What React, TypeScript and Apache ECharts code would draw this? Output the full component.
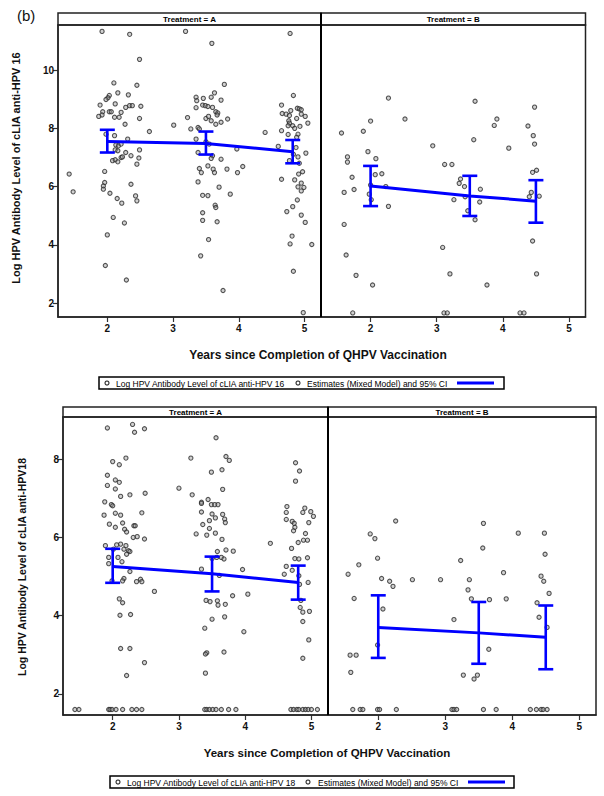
import React, { useEffect, useRef } from "react";
import * as echarts from "echarts";

// ---------- Data ----------
const xTicks = [2, 3, 4, 5];
const yTicks16 = [2, 4, 6, 8, 10];
const yTicks18 = [2, 4, 6, 8];

// HPV 16, Treatment A (individual observations)
const obs16A: number[][] = [
  [1.92, 11.33], [2.34, 11.23], [3.19, 11.33], [3.59, 10.92], [4.78, 11.26], [2.49, 10.37], [3.78, 9.51], [2.45, 9.48], [2.10, 9.56],
  [2.03, 9.13], [2.01, 9.05], [1.98, 8.99], [2.16, 9.22], [2.32, 9.15], [1.89, 8.80], [2.12, 8.84], [2.21, 8.55], [2.28, 8.72],
  [2.34, 8.78], [2.38, 8.78], [2.51, 8.76], [1.93, 8.57], [2.03, 8.57], [2.06, 8.57], [1.92, 8.46], [1.87, 8.41], [2.18, 8.38],
  [2.11, 8.38], [2.49, 8.34], [2.27, 8.14], [2.11, 7.75], [2.31, 7.63], [2.64, 7.89], [1.98, 7.80], [2.13, 7.43], [2.17, 7.40],
  [2.21, 7.46], [2.12, 7.26], [2.16, 7.23], [2.49, 7.26], [2.28, 7.17], [2.36, 7.06], [2.21, 7.00], [2.23, 7.02], [2.08, 6.89],
  [2.12, 6.92], [2.16, 6.85], [2.48, 6.98], [2.45, 6.77], [1.96, 6.52], [2.36, 6.08], [1.96, 6.14], [1.94, 6.02], [1.94, 5.91],
  [2.04, 5.77], [2.15, 5.59], [2.22, 5.43], [2.43, 5.68], [2.45, 5.51], [2.09, 4.94], [2.26, 4.75], [2.00, 4.34], [1.97, 3.29],
  [2.29, 2.79], [1.42, 6.43], [1.48, 5.82], [3.01, 8.11],
  [3.35, 9.07], [3.36, 8.95], [3.46, 9.03], [3.63, 9.22], [3.73, 8.97], [3.35, 8.71], [3.45, 8.80], [3.49, 8.78], [3.53, 8.75],
  [3.58, 9.07], [3.60, 8.72], [3.65, 8.57], [3.68, 8.53], [3.67, 8.46], [3.50, 8.34], [3.54, 8.41], [3.58, 8.26], [3.22, 8.37],
  [3.83, 8.32], [3.73, 8.21], [3.65, 8.14], [3.38, 8.03], [3.40, 7.98], [3.27, 7.98], [3.35, 7.63], [3.50, 7.54], [3.55, 7.46],
  [3.38, 7.17], [3.60, 7.06], [3.73, 6.94], [3.58, 6.97], [3.53, 6.71], [3.40, 6.62], [3.43, 6.48], [3.61, 6.60], [3.63, 6.48],
  [3.82, 6.60], [3.98, 6.48], [4.06, 6.69], [3.97, 7.29], [3.38, 6.16], [3.70, 5.98], [3.45, 5.70], [3.53, 5.69], [3.87, 5.74],
  [3.64, 5.36], [3.65, 5.28], [3.45, 5.10], [3.45, 4.84], [3.67, 4.79], [3.54, 4.18], [3.42, 3.62], [3.76, 2.43], [4.40, 7.86],
  [4.83, 9.13], [4.65, 8.80], [4.89, 8.69], [4.92, 8.67], [4.95, 8.64], [4.79, 8.61], [4.66, 8.51], [4.72, 8.49], [4.77, 8.44],
  [4.95, 8.49], [5.01, 8.41], [4.88, 8.34], [4.76, 8.26], [4.77, 8.18], [4.82, 8.09], [5.05, 8.18], [4.75, 8.09], [4.85, 8.00],
  [4.93, 8.07], [4.90, 7.80], [4.65, 7.92], [4.75, 7.79], [4.88, 7.69], [4.60, 7.38], [4.87, 7.34], [5.02, 7.15], [4.83, 7.11],
  [4.90, 7.02], [4.77, 6.89], [4.92, 6.80], [4.97, 6.51], [4.91, 6.43], [4.65, 6.25], [4.85, 6.23], [4.95, 6.12], [4.90, 5.99],
  [4.99, 5.97], [4.95, 5.85], [4.89, 5.54], [4.82, 5.31], [4.73, 5.14], [4.95, 5.02], [5.01, 4.77], [4.81, 4.30], [4.78, 4.03],
  [5.11, 4.01], [4.83, 3.09], [4.98, 1.67],
];

// HPV 16, Treatment B
const obs16B: number[][] = [
  [2.27, 9.04], [3.58, 8.93], [4.48, 8.73], [2.00, 8.25], [2.52, 8.32], [3.91, 8.32], [3.87, 8.10], [4.38, 8.08], [1.89, 7.90],
  [1.56, 7.84], [3.56, 7.61], [4.46, 7.75], [4.48, 7.46], [2.94, 7.40], [4.09, 7.32], [1.65, 7.02], [1.65, 6.84], [1.96, 7.20],
  [2.08, 6.96], [1.72, 6.32], [2.07, 6.41], [2.17, 6.44], [2.00, 6.05], [2.23, 6.00], [1.75, 5.90], [1.60, 5.80], [1.98, 5.74],
  [2.01, 5.55], [2.27, 5.32], [3.12, 6.76], [3.23, 6.76], [3.36, 6.26], [3.34, 6.11], [3.42, 6.00], [3.66, 5.91], [3.26, 5.55],
  [3.43, 5.65], [3.65, 5.47], [3.47, 5.17], [3.58, 4.86], [4.45, 6.49], [4.51, 6.56], [4.43, 5.80], [4.40, 5.65], [4.55, 5.67],
  [1.60, 4.70], [1.63, 3.65], [1.78, 2.95], [2.03, 2.62], [3.09, 3.91], [3.20, 3.00], [3.76, 2.62], [4.45, 4.13], [4.51, 3.00],
  [1.73, 1.66], [3.11, 1.66], [3.16, 1.66], [4.26, 1.66], [4.32, 1.66],
];

// HPV 18, Treatment A
const obs18A: number[][] = [
  [1.92, 8.80], [2.30, 8.89], [2.33, 8.69], [2.48, 8.78], [2.00, 7.94], [2.10, 7.86], [2.20, 8.03], [1.92, 7.59], [1.92, 7.33],
  [2.04, 7.47], [2.10, 7.41], [2.04, 7.24], [2.26, 7.09], [2.12, 7.05], [2.49, 7.13], [1.88, 6.91], [1.98, 6.84], [2.00, 6.81],
  [2.04, 6.62], [2.12, 6.57], [1.87, 6.57], [2.44, 6.63], [1.95, 6.34], [2.15, 6.37], [2.04, 6.26], [2.18, 6.21], [2.32, 6.30],
  [2.34, 6.30], [2.21, 6.14], [2.31, 6.00], [2.37, 6.02], [2.48, 5.96], [2.12, 5.83], [2.06, 5.81], [1.89, 5.79], [2.20, 5.79],
  [2.01, 5.70], [2.24, 5.66], [2.26, 5.64], [2.21, 5.57], [2.17, 5.70], [1.94, 5.49], [2.14, 5.38], [2.08, 5.49], [1.94, 5.33],
  [2.26, 5.13], [2.17, 4.95], [2.15, 4.89], [2.36, 4.87], [2.42, 4.93], [2.44, 4.87], [1.99, 4.89], [2.63, 4.62], [2.10, 4.43],
  [2.15, 4.33], [2.11, 4.01], [2.27, 4.03], [2.12, 3.16], [2.26, 3.16], [2.48, 2.80], [2.21, 2.47],
  [1.43, 1.6], [1.49, 1.6], [1.94, 1.6], [1.96, 1.6], [1.99, 1.6], [2.05, 1.6], [2.15, 1.6], [2.29, 1.6], [2.36, 1.6], [2.44, 1.6],
  [3.56, 8.55], [3.18, 8.03], [3.71, 8.07], [3.76, 7.97], [3.49, 7.67], [3.65, 7.73], [3.00, 7.26], [3.20, 7.09], [3.66, 7.23],
  [3.44, 6.97], [3.34, 6.90], [3.34, 6.87], [3.49, 6.84], [3.54, 6.84], [3.59, 6.84], [3.34, 6.65], [3.50, 6.60], [3.55, 6.50],
  [3.66, 6.59], [3.69, 6.47], [3.70, 6.38], [3.46, 6.43], [3.36, 6.33], [3.46, 6.23], [3.26, 6.09], [3.42, 6.06], [3.55, 6.11],
  [3.65, 5.95], [3.58, 5.64], [3.71, 5.68], [3.82, 5.65], [3.57, 5.49], [3.50, 5.46], [3.64, 5.49], [3.68, 5.45], [3.34, 5.19],
  [3.61, 5.03], [3.96, 5.18], [3.41, 4.39], [3.47, 4.36], [3.58, 4.38], [3.59, 4.27], [3.70, 4.29], [3.81, 4.51], [4.04, 4.55],
  [3.50, 3.91], [3.69, 3.97], [3.39, 3.68], [3.98, 3.59], [3.42, 3.05], [3.40, 3.02], [3.68, 3.07], [3.40, 2.53],
  [3.39, 1.6], [3.42, 1.6], [3.46, 1.6], [3.51, 1.6], [3.56, 1.6], [3.64, 1.6], [3.75, 1.6], [3.86, 1.6], [4.38, 5.85],
  [4.76, 7.91], [4.82, 7.70], [4.76, 7.44], [4.63, 6.79], [4.90, 6.75], [4.87, 6.64], [4.99, 6.66], [4.62, 6.64], [5.03, 6.54],
  [4.62, 6.46], [4.71, 6.41], [4.74, 6.36], [4.96, 6.38], [4.73, 6.17], [4.75, 6.26], [4.91, 6.10], [4.88, 5.93], [4.94, 5.93],
  [4.80, 5.87], [4.70, 5.72], [4.75, 5.46], [4.81, 5.45], [4.94, 5.48], [4.62, 5.26], [4.71, 5.16], [4.59, 5.06], [4.81, 5.02],
  [4.95, 4.85], [4.82, 4.80], [4.84, 4.39], [4.83, 4.21], [4.87, 4.09], [4.97, 4.11], [4.87, 3.85], [4.96, 3.38], [4.87, 2.91],
  [4.69, 1.6], [4.73, 1.6], [4.78, 1.6], [4.81, 1.6], [4.87, 1.6], [4.91, 1.6], [4.95, 1.6], [5.00, 1.6], [5.09, 1.6],
];

// HPV 18, Treatment B
const obs18B: number[][] = [
  [2.26, 6.42], [3.57, 6.36], [1.88, 6.09], [1.95, 5.97], [4.09, 6.11], [4.48, 6.11], [3.56, 5.73], [4.49, 5.57], [1.99, 5.47],
  [3.23, 5.41], [1.71, 5.30], [1.55, 5.06], [3.87, 5.10], [2.05, 4.95], [2.17, 4.88], [2.22, 4.75], [2.51, 4.92], [2.93, 4.92],
  [3.36, 4.92], [4.43, 5.01], [4.47, 4.88], [3.34, 4.66], [1.64, 4.44], [3.39, 4.43], [3.66, 4.41], [3.91, 4.43], [4.55, 4.57],
  [4.37, 4.33], [2.07, 4.17], [4.40, 3.96], [4.52, 3.70], [3.13, 3.90], [1.99, 3.25], [3.65, 3.14], [1.58, 2.99], [1.67, 2.99],
  [1.59, 2.55], [3.27, 2.48], [3.48, 2.48], [3.43, 2.38],
  [1.62, 1.6], [1.73, 1.6], [1.77, 1.6], [1.99, 1.6], [2.02, 1.6], [2.27, 1.6], [3.10, 1.6], [3.13, 1.6], [3.17, 1.6], [3.57, 1.6],
  [3.76, 1.6], [4.27, 1.6], [4.36, 1.6], [4.43, 1.6], [4.46, 1.6], [4.52, 1.6],
];

// Estimates (Mixed Model) and 95% CI
const time16A = [2.0, 3.5, 4.82];
const est16A = [7.55, 7.48, 7.2];
const lo16A = [7.17, 7.1, 6.8];
const hi16A = [7.95, 7.89, 7.6];

const time16B = [2.0, 3.5, 4.5];
const est16B = [6.02, 5.68, 5.5];
const lo16B = [5.33, 4.99, 4.76];
const hi16B = [6.71, 6.37, 6.22];

const time18A = [2.0, 3.5, 4.8];
const est18A = [5.26, 5.07, 4.85];
const lo18A = [4.84, 4.62, 4.41];
const hi18A = [5.71, 5.51, 5.28];

const time18B = [2.0, 3.5, 4.5];
const est18B = [3.7, 3.56, 3.45];
const lo18B = [2.92, 2.77, 2.63];
const hi18B = [4.52, 4.35, 4.26];

const FONT = "Liberation Sans, Arial, sans-serif";
const BLUE = "#0000ff";

export default function App() {
  const ref = useRef<HTMLDivElement>(null);

  useEffect(() => {
    if (!ref.current) return;
    const chart = echarts.init(ref.current, undefined, { renderer: "svg" });

    const grids = [
      { left: 58, top: 25, width: 263, height: 292 },
      { left: 321, top: 25, width: 264.5, height: 292 },
      { left: 63, top: 417, width: 265, height: 298 },
      { left: 328, top: 417, width: 268, height: 298 },
    ];

    const xAxes = grids.map((_, i) => ({
      type: "value",
      gridIndex: i,
      min: 1.25,
      max: 5.25,
      axisLine: { show: true, lineStyle: { color: "#333", width: 1.5 } },
      axisTick: { show: true, customValues: xTicks, length: 5, lineStyle: { color: "#333", width: 1.2 } },
      axisLabel: {
        show: true,
        customValues: xTicks,
        color: "#111",
        fontSize: 10,
        fontWeight: "bold",
        fontFamily: FONT,
        margin: 6,
      },
      splitLine: { show: false },
    }));

    const yAxes = grids.map((_, i) => {
      const top = i < 2;
      const showLabels = i === 0 || i === 2;
      const ticks = top ? yTicks16 : yTicks18;
      return {
        type: "value",
        gridIndex: i,
        min: top ? 1.52 : 1.46,
        max: top ? 11.55 : 9.08,
        axisLine: { show: showLabels, lineStyle: { color: "#333", width: 1.5 } },
        axisTick: { show: showLabels, customValues: ticks, length: 5, lineStyle: { color: "#333", width: 1.2 } },
        axisLabel: {
          show: showLabels,
          customValues: ticks,
          color: "#111",
          fontSize: 10,
          fontWeight: "bold",
          fontFamily: FONT,
          margin: 4,
        },
        splitLine: { show: false },
      };
    });

    const scatter = (data: number[][], idx: number) => ({
      type: "scatter",
      xAxisIndex: idx,
      yAxisIndex: idx,
      data,
      symbol: "circle",
      symbolSize: 4.2,
      itemStyle: { color: "rgba(150,150,150,0.55)", borderColor: "#2a2a2a", borderWidth: 1.1 },
      z: 2,
    });

    const line = (t: number[], e: number[], idx: number) => ({
      type: "line",
      xAxisIndex: idx,
      yAxisIndex: idx,
      data: t.map((v, k) => [v, e[k]]),
      showSymbol: false,
      lineStyle: { color: BLUE, width: 3 },
      z: 4,
    });

    const bars = (t: number[], lo: number[], hi: number[], idx: number) => ({
      type: "custom",
      xAxisIndex: idx,
      yAxisIndex: idx,
      data: t.map((v, k) => [v, lo[k], hi[k]]),
      encode: { x: 0, y: [1, 2] },
      z: 5,
      renderItem: (_p: any, api: any) => {
        const x = api.value(0);
        const a = api.coord([x, api.value(1)]);
        const b = api.coord([x, api.value(2)]);
        const hw = 7.5;
        const st = { stroke: BLUE, lineWidth: 2.6 };
        return {
          type: "group",
          children: [
            { type: "line", shape: { x1: a[0], y1: a[1], x2: b[0], y2: b[1] }, style: st },
            { type: "line", shape: { x1: a[0] - hw, y1: a[1], x2: a[0] + hw, y2: a[1] }, style: st },
            { type: "line", shape: { x1: b[0] - hw, y1: b[1], x2: b[0] + hw, y2: b[1] }, style: st },
          ],
        };
      },
    });

    const frameStyle = { fill: "none", stroke: "#222", lineWidth: 1.5 };
    const stripText = (label: string, cx: number, cy: number) => ({
      type: "text",
      x: cx,
      y: cy,
      style: { text: label, fontSize: 8, fontWeight: "bold", fontFamily: FONT, fill: "#000", align: "center", verticalAlign: "middle" },
      z: 10,
    });

    const legend = (bx: number, by: number, bw: number, label: string, c1: number, t1: number, c2: number, t2: number, l1: number, l2: number) => [
      { type: "rect", shape: { x: bx, y: by, width: bw, height: 12 }, style: { fill: "#fff", stroke: "#000", lineWidth: 1.5 }, z: 10 },
      { type: "circle", shape: { cx: c1, cy: by + 6, r: 2 }, style: { fill: "none", stroke: "#222", lineWidth: 1.1 }, z: 11 },
      { type: "text", x: t1, y: by + 6.5, style: { text: label, fontSize: 8.5, fontFamily: FONT, fill: "#000", verticalAlign: "middle" }, z: 11 },
      { type: "circle", shape: { cx: c2, cy: by + 6, r: 2 }, style: { fill: "none", stroke: "#222", lineWidth: 1.1 }, z: 11 },
      { type: "text", x: t2, y: by + 6.5, style: { text: "Estimates (Mixed Model) and 95% CI", fontSize: 8.5, fontFamily: FONT, fill: "#000", verticalAlign: "middle" }, z: 11 },
      { type: "line", shape: { x1: l1, y1: by + 6, x2: l2, y2: by + 6 }, style: { stroke: BLUE, lineWidth: 3 }, z: 11 },
    ];

    const graphic: any[] = [
      { type: "text", x: 17, y: 8, style: { text: "(b)", fontSize: 15, fontFamily: FONT, fill: "#111" } },
      // top panel frames
      { type: "rect", shape: { x: 58, y: 13, width: 263, height: 12 }, style: frameStyle, z: 9 },
      { type: "rect", shape: { x: 321, y: 13, width: 264.5, height: 12 }, style: frameStyle, z: 9 },
      { type: "rect", shape: { x: 58, y: 25, width: 527.5, height: 292 }, style: frameStyle, z: 9 },
      { type: "line", shape: { x1: 321, y1: 13, x2: 321, y2: 317 }, style: { stroke: "#000", lineWidth: 2 }, z: 9 },
      stripText("Treatment = A", 189.5, 19.5),
      stripText("Treatment = B", 453.2, 19.5),
      // bottom panel frames
      { type: "rect", shape: { x: 63, y: 407, width: 265, height: 10 }, style: frameStyle, z: 9 },
      { type: "rect", shape: { x: 328, y: 407, width: 268, height: 10 }, style: frameStyle, z: 9 },
      { type: "rect", shape: { x: 63, y: 417, width: 533, height: 298 }, style: frameStyle, z: 9 },
      { type: "line", shape: { x1: 328, y1: 407, x2: 328, y2: 715 }, style: { stroke: "#000", lineWidth: 2 }, z: 9 },
      stripText("Treatment = A", 195.5, 412.5),
      stripText("Treatment = B", 462, 412.5),
      // axis titles
      {
        type: "text", x: 16, y: 168, rotation: Math.PI / 2,
        style: { text: "Log HPV Antibody Level of cLIA anti-HPV 16", fontSize: 11, fontWeight: "bold", fontFamily: FONT, fill: "#111", align: "center", verticalAlign: "middle" },
      },
      {
        type: "text", x: 22, y: 567, rotation: Math.PI / 2,
        style: { text: "Log HPV Antibody Level of cLIA anti-HPV18", fontSize: 10.5, fontWeight: "bold", fontFamily: FONT, fill: "#111", align: "center", verticalAlign: "middle" },
      },
      {
        type: "text", x: 318, y: 355,
        style: { text: "Years since Completion of QHPV Vaccination", fontSize: 12, fontWeight: "bold", fontFamily: FONT, fill: "#111", align: "center", verticalAlign: "middle" },
      },
      {
        type: "text", x: 327, y: 753,
        style: { text: "Years since Completion of QHPV Vaccination", fontSize: 11.5, fontWeight: "bold", fontFamily: FONT, fill: "#111", align: "center", verticalAlign: "middle" },
      },
      ...legend(99, 377, 405, "Log HPV Antibody Level of cLIA anti-HPV 16", 107, 116, 298, 307, 457, 494),
      ...legend(110, 776, 404, "Log HPV Antibody Level of cLIA anti-HPV 18", 118, 127, 308, 318, 468, 505),
    ];

    chart.setOption({
      animation: false,
      backgroundColor: "#fff",
      grid: grids,
      xAxis: xAxes,
      yAxis: yAxes,
      series: [
        scatter(obs16A, 0),
        scatter(obs16B, 1),
        scatter(obs18A, 2),
        scatter(obs18B, 3),
        line(time16A, est16A, 0),
        line(time16B, est16B, 1),
        line(time18A, est18A, 2),
        line(time18B, est18B, 3),
        bars(time16A, lo16A, hi16A, 0),
        bars(time16B, lo16B, hi16B, 1),
        bars(time18A, lo18A, hi18A, 2),
        bars(time18B, lo18B, hi18B, 3),
      ],
      graphic,
    });

    return () => chart.dispose();
  }, []);

  return <div ref={ref} style={{ position: "absolute", left: 0, top: 0, width: 604, height: 796 }} />;
}
